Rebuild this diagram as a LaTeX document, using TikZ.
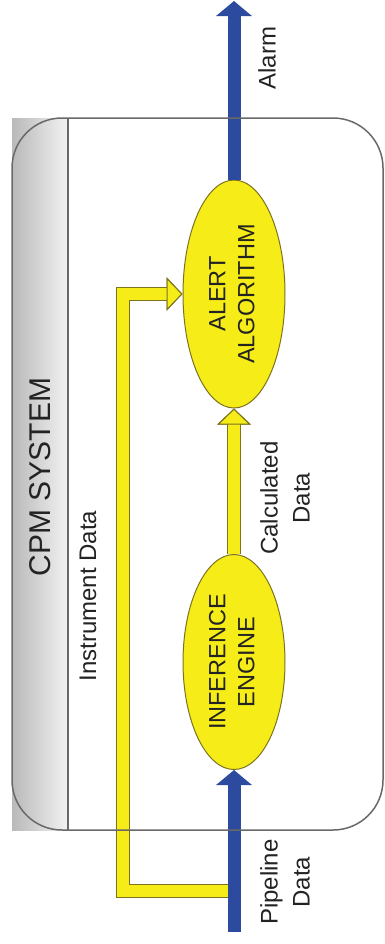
\documentclass[tikz,border=0pt]{standalone}
\usepackage{fontspec}
\setmainfont{Liberation Sans}
\usetikzlibrary{shapes.geometric,arrows.meta}
\definecolor{cpmyellow}{RGB}{246,236,24}
\definecolor{cpmolive}{RGB}{125,115,30}
\definecolor{cpmblue}{RGB}{44,74,158}
\definecolor{cpmgray}{RGB}{105,105,105}
\definecolor{cpmtext}{RGB}{35,35,35}

\begin{document}
\begin{tikzpicture}[x=0.5pt, y=-0.5pt,
  engine/.style={ellipse, draw=cpmolive, fill=cpmyellow, line width=0.5pt, inner sep=0pt,
    text=cpmtext, font=\fontsize{11.75}{14.5}\selectfont},
  lbl/.style={rotate=90, text=cpmtext, align=center, font=\fontsize{12}{16}\selectfont},
  bluearrow/.style={draw=cpmblue, line width=6.5pt, -{Triangle[width=17.5pt,length=7.5pt]}},
  yelarrow/.style={draw=cpmyellow, line width=6pt,
    -{Triangle[width=16.5pt,length=8pt,fill=cpmyellow,color=cpmolive,line width=0.5pt]},
    preaction={draw=cpmolive, line width=7pt, -{Triangle[width=16.5pt,length=8pt]}}}]
  \useasboundingbox (0,0) rectangle (385,944);
  %% grey title band of the system box
  \shade[left color=gray!55, right color=gray!10] (12,118) rectangle (68,830);
  %% the two processing blocks
  \node[engine, minimum width=51pt, minimum height=114pt] (alert) at (234,294)
    {\rotatebox{90}{\begin{tabular}{@{}c@{}}ALERT\\ALGORITHM\end{tabular}}};
  \node[engine, minimum width=51pt, minimum height=107.5pt] (infer) at (234,662)
    {\rotatebox{90}{\begin{tabular}{@{}c@{}}INFERENCE\\ENGINE\end{tabular}}};
  \coordinate (pipestart) at (234,932);
  \coordinate (tap) at (234,891);
  \coordinate (instr) at (123,294);
  \coordinate (alarmend) at (234,1);
  %% instrument data bypass and calculated data
  \draw[yelarrow] (tap) -| (instr) -- (alert.west);
  \draw[yelarrow] (infer.north) -- (alert.south);
  %% pipeline data in, alarm out
  \draw[bluearrow] (pipestart) -- (infer.south);
  \draw[bluearrow] (alert.north) -- (alarmend);
  %% system box
  \draw[cpmgray, line width=0.75pt, rounded corners=25pt] (12,118) rectangle (383,830);
  \draw[cpmgray, line width=0.75pt] (68,118) -- (68,830);
  %% labels
  \node[lbl, font=\fontsize{15}{18}\selectfont] (cpm) at (40,477) {CPM SYSTEM};
  \node[lbl] (instlbl) at (88,596) {Instrument Data};
  \node[lbl] (calclbl) at (285,498) {Calculated\\Data};
  \node[lbl] (pipelbl) at (285,882) {Pipeline\\Data};
  \node[lbl] (alarmlbl) at (267,58) {Alarm};
\end{tikzpicture}
\end{document}
